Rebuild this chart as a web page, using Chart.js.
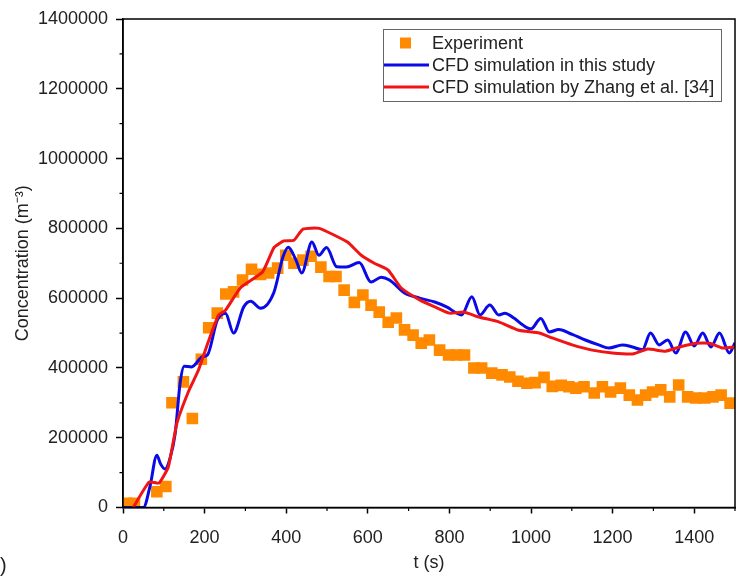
<!DOCTYPE html>
<html>
<head>
<meta charset="utf-8">
<script src="https://cdn.jsdelivr.net/npm/chart.js@4"></script>
<style>
  body { margin: 0; background: #fff; }
  #wrap { width: 736px; height: 576px; position: relative; }
</style>
</head>
<body>
<div id="wrap"><canvas id="concChart" width="736" height="576"></canvas></div>
<script>
// experiment (orange squares)
var expT = [10, 28, 83, 105, 120, 148, 170, 192, 210, 231, 252, 271, 293, 315, 337, 357, 379, 399, 419, 441, 461, 485, 505, 522, 542, 567, 588, 608, 628, 650, 670, 690, 711, 731, 751, 776, 798, 818, 837, 860, 879, 904, 929, 948, 968, 990, 1010, 1032, 1052, 1074, 1093, 1110, 1130, 1155, 1175, 1195, 1219, 1241, 1261, 1281, 1298, 1318, 1340, 1362, 1384, 1404, 1426, 1446, 1466, 1488];
var expC = [12000, 12000, 45000, 60000, 300000, 360000, 255000, 425000, 515000, 557000, 612000, 618000, 652000, 683000, 668000, 672000, 686000, 723000, 700000, 709000, 720000, 689000, 662000, 662000, 623000, 588000, 609000, 580000, 560000, 531000, 543000, 509000, 494000, 471000, 480000, 451000, 437000, 437000, 437000, 400000, 400000, 385000, 380000, 374000, 362000, 356000, 358000, 373000, 347000, 350000, 346000, 342000, 346000, 328000, 346000, 331000, 342000, 322000, 308000, 322000, 331000, 337000, 317000, 351000, 317000, 314000, 314000, 317000, 322000, 299000];

// CFD simulation in this study (blue)
var blueT = [0, 50, 66, 83, 92, 103, 115, 128, 140, 150, 168, 195, 207, 231, 251, 271, 296, 313, 337, 370, 392, 405, 424, 438, 463, 480, 499, 524, 547, 579, 608, 633, 653, 690, 727, 764, 793, 830, 855, 875, 899, 921, 936, 958, 980, 1000, 1024, 1045, 1068, 1101, 1133, 1166, 1191, 1224, 1249, 1273, 1293, 1314, 1335, 1355, 1379, 1400, 1421, 1441, 1462, 1486, 1500];
var blueC = [0, 0, 60000, 150000, 125000, 110000, 140000, 213000, 357000, 405000, 403000, 432000, 437000, 537000, 557000, 500000, 575000, 591000, 571000, 617000, 718000, 746000, 709000, 672000, 761000, 723000, 745000, 690000, 689000, 702000, 646000, 660000, 652000, 615000, 600000, 589000, 575000, 552000, 604000, 552000, 580000, 552000, 557000, 543000, 523000, 512000, 542000, 503000, 510000, 496000, 480000, 466000, 457000, 466000, 460000, 452000, 500000, 466000, 480000, 443000, 503000, 463000, 500000, 460000, 500000, 443000, 472000];

// CFD simulation by Zhang et al. (red)
var redT = [25, 64, 88, 111, 132, 160, 185, 209, 234, 251, 288, 342, 370, 394, 419, 441, 481, 517, 551, 584, 616, 650, 682, 727, 764, 800, 835, 872, 921, 970, 1020, 1052, 1101, 1150, 1199, 1249, 1286, 1330, 1364, 1404, 1438, 1470, 1500];
var redC = [0, 73000, 70000, 116000, 241000, 331000, 394000, 475000, 551000, 565000, 630000, 675000, 745000, 764000, 766000, 798000, 800000, 781000, 760000, 723000, 700000, 680000, 629000, 595000, 575000, 557000, 560000, 546000, 532000, 508000, 500000, 486000, 466000, 451000, 443000, 440000, 454000, 448000, 460000, 471000, 471000, 457000, 460000];

var labels = ["Experiment", "CFD simulation in this study", "CFD simulation by Zhang et al. [34]"];
var colors = ["#ff8a00", "#0a0ae8", "#f01414"];

var xTickLabels = [0, 200, 400, 600, 800, 1000, 1200, 1400];
var yTickLabels = [0, 200000, 400000, 600000, 800000, 1000000, 1200000, 1400000];

var FONT = "'Liberation Sans', Arial, sans-serif";

function toPoints(t, c) {
  var pts = [];
  for (var i = 0; i < t.length; i++) {
    pts.push({x: t[i], y: c[i]});
  }
  return pts;
}

// frame, minor ticks, legend box
var extras = {
  id: "extras",
  afterDatasetsDraw: function(chart) {
    var ctx = chart.ctx;
    var a = chart.chartArea;
    ctx.save();
    ctx.strokeStyle = "#000";
    ctx.lineWidth = 1.5;
    ctx.strokeRect(a.left, a.top, a.right - a.left, a.bottom - a.top);

    // minor ticks
    var xs = chart.scales.x, ys = chart.scales.y;
    ctx.lineWidth = 1.2;
    ctx.beginPath();
    for (var v = 100; v <= 1500; v += 200) {
      var px = xs.getPixelForValue(v);
      ctx.moveTo(px, a.bottom);
      ctx.lineTo(px, a.bottom + 3.5);
    }
    for (var w = 100000; w < 1400000; w += 200000) {
      var py = ys.getPixelForValue(w);
      ctx.moveTo(a.left, py);
      ctx.lineTo(a.left - 3.5, py);
    }
    ctx.stroke();
    ctx.restore();
  },
  afterDraw: function(chart) {
    var ctx = chart.ctx;
    var ds = chart.data.datasets;
    ctx.save();
    ctx.strokeStyle = "#666";
    ctx.lineWidth = 1;
    ctx.strokeRect(383.5, 29.5, 338, 72);
    ctx.font = "18px " + FONT;
    ctx.textBaseline = "middle";
    var rowY = [43, 65, 87];
    for (var i = 0; i < ds.length; i++) {
      if (i === 0) {
        ctx.fillStyle = ds[i].backgroundColor;
        ctx.fillRect(400, rowY[i] - 5.5, 11, 11);
      } else {
        ctx.strokeStyle = ds[i].borderColor;
        ctx.lineWidth = 3;
        ctx.beginPath();
        ctx.moveTo(384, rowY[i]);
        ctx.lineTo(429, rowY[i]);
        ctx.stroke();
      }
      ctx.fillStyle = "#222";
      ctx.fillText(ds[i].label, 432, rowY[i] + 1);
    }
    // cut off panel label
    ctx.font = "20px " + FONT;
    ctx.fillText(")", 0, 566);
    ctx.restore();
  }
};

var ctx = document.getElementById("concChart").getContext("2d");
var concChart = new Chart(ctx, {
  type: "line",
  data: {
    datasets: [{
      label: labels[0],
      data: toPoints(expT, expC),
      showLine: false,
      pointStyle: "rect",
      pointRadius: 8.2,
      pointBorderWidth: 0,
      backgroundColor: colors[0],
      borderColor: colors[0],
      order: 2
    }, {
      label: labels[1],
      data: toPoints(blueT, blueC),
      borderColor: colors[1],
      backgroundColor: colors[1],
      borderWidth: 3,
      pointRadius: 0,
      cubicInterpolationMode: "monotone",
      order: 1
    }, {
      label: labels[2],
      data: toPoints(redT, redC),
      borderColor: colors[2],
      backgroundColor: colors[2],
      borderWidth: 3,
      pointRadius: 0,
      tension: 0.15,
      order: 0
    }]
  },
  options: {
    responsive: false,
    animation: false,
    layout: { autoPadding: false, padding: { top: 19, right: 1, left: 0, bottom: 0 } },
    plugins: {
      legend: { display: false },
      tooltip: { enabled: false }
    },
    scales: {
      x: {
        type: "linear",
        min: 0,
        max: 1500,
        afterFit: function(scale) {
          scale.height = 68.5;
          scale.paddingLeft = 0;
          scale.paddingRight = 0;
        },
        ticks: {
          stepSize: 100,
          autoSkip: false,
          maxRotation: 0,
          padding: 14,
          color: "#222",
          font: { family: FONT, size: 18 },
          callback: function(value) {
            return xTickLabels.indexOf(value) >= 0 ? String(value) : "";
          }
        },
        grid: {
          drawOnChartArea: false,
          tickLength: 6,
          tickWidth: 1.5,
          tickColor: function(c) {
            return (c.tick && c.tick.value % 200 === 0) ? "#000" : "rgba(0,0,0,0)";
          }
        },
        border: { display: true, color: "#000", width: 1.5 },
        title: {
          display: true,
          text: "t (s)",
          color: "#222",
          font: { family: FONT, size: 18 },
          padding: { top: 0, bottom: 2 }
        }
      },
      y: {
        type: "linear",
        min: 0,
        max: 1400000,
        afterFit: function(scale) { scale.width = 123; },
        ticks: {
          stepSize: 100000,
          autoSkip: false,
          padding: 8,
          color: "#222",
          font: { family: FONT, size: 18 },
          callback: function(value) {
            return yTickLabels.indexOf(value) >= 0 ? String(value) : "";
          }
        },
        grid: {
          drawOnChartArea: false,
          tickLength: 7,
          tickWidth: 1.5,
          tickColor: function(c) {
            return (c.tick && c.tick.value % 200000 === 0) ? "#000" : "rgba(0,0,0,0)";
          }
        },
        border: { display: true, color: "#000", width: 1.5 },
        title: {
          display: true,
          text: "Concentration (m\u207B\u00B3)",
          color: "#222",
          font: { family: FONT, size: 18 },
          padding: { top: 12, bottom: 0 }
        }
      }
    }
  },
  plugins: [extras]
});
</script>
</body>
</html>
